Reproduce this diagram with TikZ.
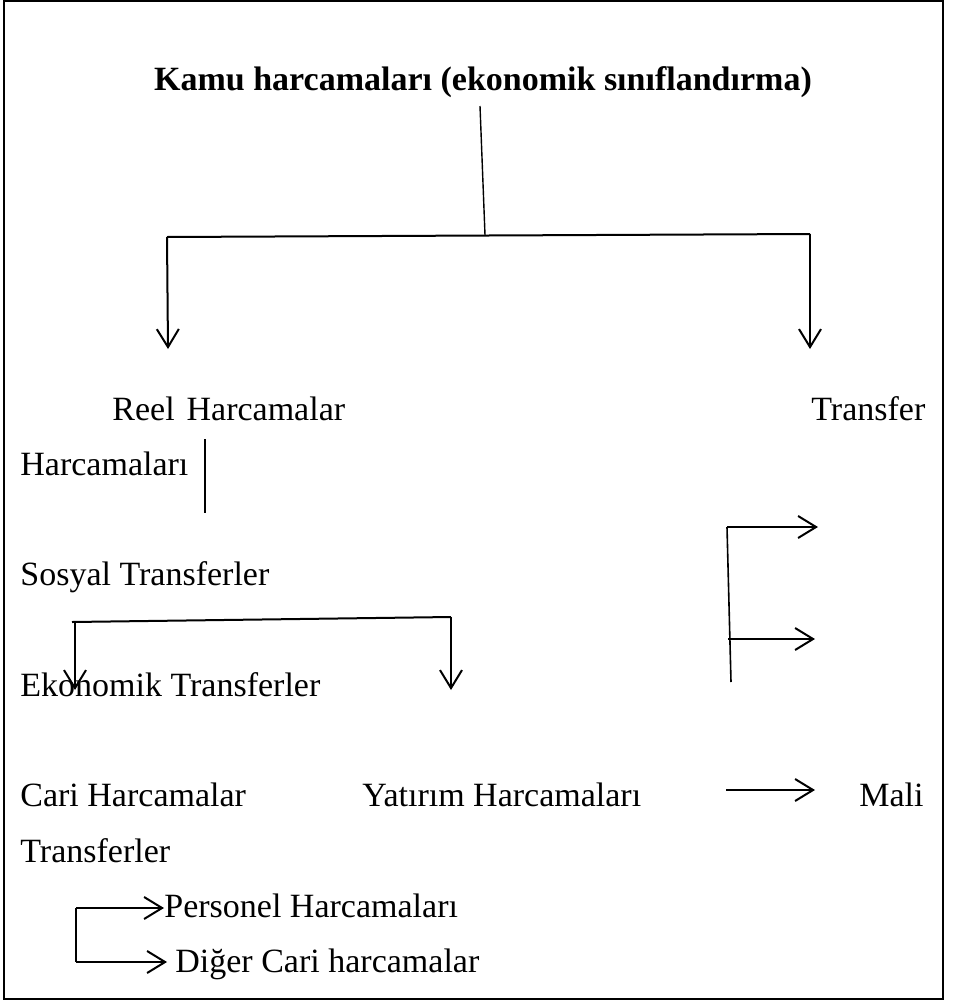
\documentclass[tikz,border=0pt]{standalone}
\usepackage{fontspec}
\setmainfont{Liberation Serif}
\usetikzlibrary{arrows.meta}

\begin{document}
\begin{tikzpicture}[x=0.5pt,y=-0.5pt]
	\useasboundingbox (0,0) rectangle (954,1001);
	\draw[line width=1.2pt] (4,1) rectangle (943,999);
	\begin{scope}[every node/.style = {inner sep=0pt, anchor=base west,
			font=\fontsize{17}{20}\selectfont}]
		\node[anchor=base, font=\fontsize{17}{20}\selectfont\bfseries] (kamu) at (483,90)
			{Kamu harcamaları (ekonomik sınıflandırma)};
		\node (reel) at (112,420) {Reel\hspace{0.35em}Harcamalar};
		\node (transfer) at (811,420) {Transfer};
		\node (harc) at (20,475) {Harcamaları};
		\node (sosyal) at (20,585) {Sosyal Transferler};
		\node (ekonomik) at (20,696) {Ekonomik Transferler};
		\node (cari) at (20,806) {Cari Harcamalar};
		\node (yatirim) at (362,806) {Yatırım Harcamaları};
		\node (mali) at (859,806) {Mali};
		\node (transferler) at (20,862) {Transferler};
		\node (personel) at (164,917) {Personel Harcamaları};
		\node (diger) at (175,972) {Diğer Cari harcamalar};
	\end{scope}
	% ends of the lines
	\coordinate (K1) at (480,106);
	\coordinate (K2) at (485,235);
	\coordinate (HL) at (167,237);
	\coordinate (HR) at (810,234);
	\coordinate (RT) at (168,349);
	\coordinate (TT) at (810,349);
	\coordinate (V1) at (205,439);
	\coordinate (V2) at (205,513);
	\coordinate (SL) at (72,622);
	\coordinate (SR) at (451,617);
	\coordinate (ET) at (75,690);
	\coordinate (YT) at (451,690);
	\coordinate (B1) at (727,527);
	\coordinate (B2) at (731,682);
	\coordinate (B3) at (818,527);
	\coordinate (B4) at (728,639);
	\coordinate (B5) at (815,639);
	\coordinate (M1) at (726,790);
	\coordinate (M2) at (815,790);
	\coordinate (C1) at (76,908);
	\coordinate (C2) at (76,962);
	\coordinate (C3) at (167,962);
	\begin{scope}[>={Straight Barb[length=9pt, width=11pt]},
			every edge/.style={draw=black, line width=1pt}]
		\path [-] (K1) edge [line width=0.7pt] (K2);
		\path [-] (HL) edge (HR);
		\path [->] (HL) edge (RT);
		\path [->] (HR) edge (TT);
		\path [-] (V1) edge [line width=0.7pt] (V2);
		\path [-] (SL) edge (SR);
		\path [->] (SL -| ET) edge (ET);
		\path [->] (SR) edge (YT);
		\path [-] (B1) edge [line width=0.8pt] (B2);
		\path [->] (B1) edge (B3);
		\path [->] (B4) edge (B5);
		\path [->] (M1) edge (M2);
		\path [-] (C1) edge (C2);
		\path [->] (C1) edge (personel.west |- C1);
		\path [->] (C2) edge (C3);
	\end{scope}
\end{tikzpicture}
\end{document}
